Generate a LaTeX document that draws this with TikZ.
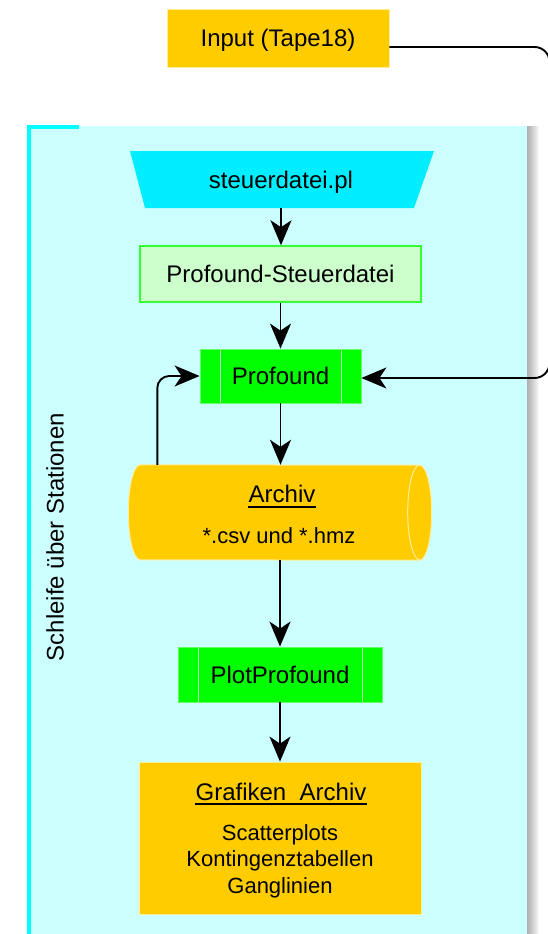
\documentclass[tikz,border=0pt]{standalone}
\usepackage{fontspec}
\setmainfont{Liberation Sans}
\usetikzlibrary{arrows.meta,calc}

\definecolor{gold}{HTML}{FFCC00}
\definecolor{goldedge}{HTML}{FFEE99}
\definecolor{lanefill}{HTML}{CCFFFF}
\definecolor{laneedge}{HTML}{00FFFF}
\definecolor{scriptfill}{HTML}{00EEFF}
\definecolor{progfill}{HTML}{00FF00}
\definecolor{progedge}{HTML}{66FF66}
\definecolor{progline}{HTML}{B0FFB0}
\definecolor{cfgfill}{HTML}{CCFFCC}
\definecolor{cfgedge}{HTML}{33FF33}

\begin{document}
\begin{tikzpicture}[x=1pt,y=-1pt,
  big/.style={font=\fontsize{24}{28}\selectfont},
  small/.style={font=\fontsize{22}{26.5}\selectfont},
  box/.style={rectangle, inner sep=0pt, big, text height=17pt, text depth=0pt},
  datastore/.style={box, fill=gold, draw=goldedge, line width=0.8pt},
  program/.style={box, fill=progfill, draw=progedge, line width=0.8pt,
    path picture={
      \draw[progline, line width=1pt]
        ([xshift=20pt]path picture bounding box.north west) --
        ([xshift=20pt]path picture bounding box.south west)
        ([xshift=-20pt]path picture bounding box.north east) --
        ([xshift=-20pt]path picture bounding box.south east);
    }},
  flow/.style={draw=black, line width=1.9pt,
    -{Stealth[length=25pt,width=21pt,inset=7pt]}},
  underbar/.style={line width=1.5pt},
  listline/.style={small, inner sep=0pt, anchor=base},
]
\useasboundingbox (0,0) rectangle (548,934);

% soft shadow on the right of the loop lane
\foreach \i in {1,...,12}
  \fill[black, opacity=0.03] (29+\i,126) rectangle (527+\i,940);

% loop lane
\fill[lanefill] (29,126) rectangle (527,940);
\draw[laneedge, line width=4pt] (29,940) -- (29,127) -- (79,127);
\node[rotate=90, inner sep=0pt, font=\fontsize{24}{28}\selectfont,
      text height=17pt, text depth=0pt] (lanetitle) at (55,537)
  {Schleife über Stationen};

% input file
\node[datastore, minimum width=222pt, minimum height=58pt] (input) at (278,38)
  {Input (Tape18)};

% control script (manual input shape)
\fill[scriptfill] (130,151) -- (434,151) -- (414,208) -- (145,208) -- cycle;
\node[box, minimum width=269pt, minimum height=57pt] (script) at (281,179.5)
  {steuerdatei.pl};

% generated control file
\node[box, fill=cfgfill, draw=cfgedge, line width=1.5pt,
      minimum width=281pt, minimum height=56pt] (cfg) at (280.5,274)
  {Profound-Steuerdatei};

% programs
\node[program, minimum width=161pt, minimum height=54pt] (prof) at (280.5,376)
  {Profound};
\node[program, minimum width=204pt, minimum height=55pt] (plot) at (280,674.5)
  {PlotProfound};

% archive (horizontal cylinder)
\node[inner sep=0pt, minimum width=279pt, minimum height=95pt] (archive)
  at (280,512.5) {};
\filldraw[fill=gold, draw=goldedge, line width=1pt]
  (archive.north west)
    arc[start angle=270, end angle=90, x radius=12, y radius=47.5]
  -- (archive.south east)
    arc[start angle=90, end angle=-90, x radius=12, y radius=47.5]
  -- cycle;
\draw[goldedge, line width=1pt] (archive.north east)
    arc[start angle=-90, end angle=-270, x radius=12, y radius=47.5];
\node[big, inner sep=0pt, anchor=base] (archtitle) at (282,502) {Archiv};
\draw[underbar] ([yshift=-5pt]archtitle.base west) -- ([yshift=-5pt]archtitle.base east);
\node[small, inner sep=0pt, anchor=base] (archsub) at (279,543) {*.csv und *.hmz};

% graphics archive
\node[datastore, minimum width=282pt, minimum height=152pt] (graphics)
  at (280,838) {};
\node[big, inner sep=0pt, anchor=base] (graftitle) at (281,800) {Grafiken\_Archiv};
\draw[underbar] ([yshift=-4pt]graftitle.base west) -- ([yshift=-4pt]graftitle.base east);
\node[listline] (scatter) at (280,840) {Scatterplots};
\node[listline] (contab) at (280,866.5) {Kontingenztabellen};
\node[listline] (hydro) at (280,893) {Ganglinien};

% connectors
\coordinate (rimtop) at (549.5,47);
\coordinate (rimbottom) at (549.5,378);
\draw[flow] (script.south) -- (cfg.north -| script.south);
\draw[flow] (cfg.south) -- (prof.north -| cfg.south);
\draw[flow] (prof.south) -- (archive.north -| prof.south);
\draw[flow] (archive.south) -- (plot.north -| archive.south);
\draw[flow] (plot.south) -- (graphics.north -| plot.south);
\draw[flow, rounded corners=12pt] ([xshift=17pt]archive.north west) |- (prof.west);
\draw[flow, rounded corners=15pt] ([yshift=-9pt]input.east) -- (rimtop)
  -- (rimbottom) -- ([yshift=-2pt]prof.east);
\end{tikzpicture}
\end{document}
